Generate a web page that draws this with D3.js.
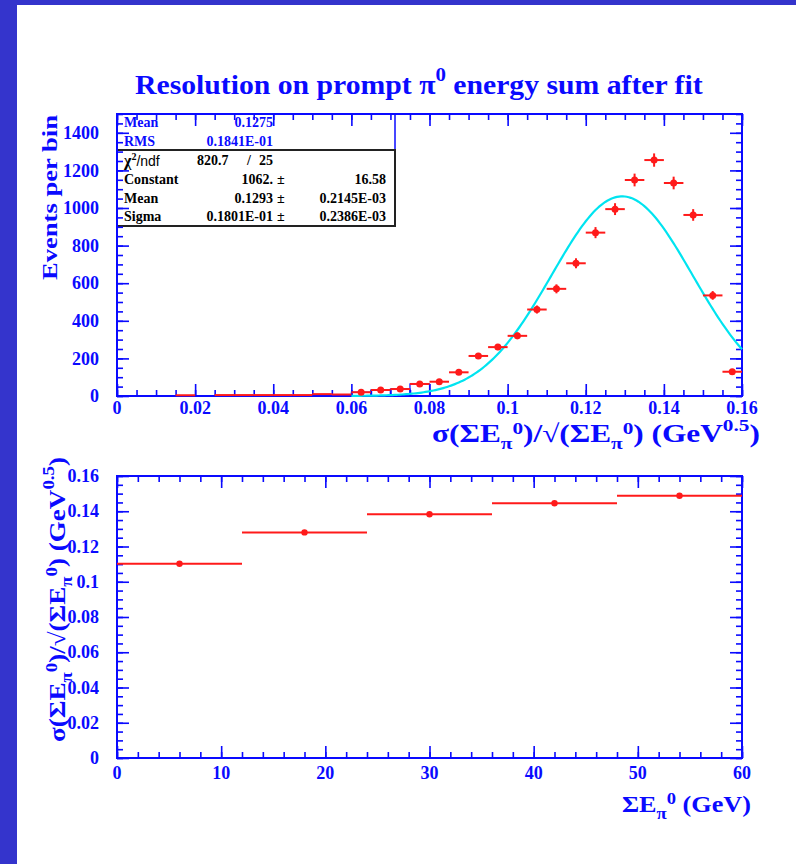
<!DOCTYPE html>
<html><head><meta charset="utf-8">
<script src="https://cdn.jsdelivr.net/npm/d3@7"></script>
<style>
body{margin:0;background:#fff}
svg{display:block}
text{font-family:"Liberation Serif","Times New Roman",serif;font-weight:bold}
</style>
</head><body>
<svg id="c" width="796" height="864"></svg>
<script>
// ---------------- data ----------------
const binCenters = [0.0175,0.0275,0.0325,0.0375,0.0425,0.0475,0.0525,0.0575,0.0625,0.0675,0.0725,0.0775,0.0825,0.0875,0.0925,0.0975,0.1025,0.1075,0.1125,0.1175,0.1225,0.1275,0.1325,0.1375,0.1425,0.1475,0.1525,0.1575];
const binCounts  = [4,5,5,5,5,5,10,8,20,32,37,64,76,126,213,260,320,460,570,706,869,994,1149,1255,1133,963,535,129];
const binErrors  = [1,2,2,2,2,2,3,3,4.5,5.7,6.1,8,8.7,11.2,14.6,16.1,17.9,21.4,23.9,26.6,29.5,31.5,33.9,35.4,33.7,31,23.1,11.4];
const binWidth = 0.005;
const outlinedBins = [0.0625,0.0675,0.0725,0.0775];
const markerMinCount = 15;
const fitConstant = 1062, fitMean = 0.1293, fitSigma = 0.01801;
const fitRange = [0.06, 0.16];

const statsTop = [["Mean","0.1275"],["RMS","0.1841E-01"]];
const chi2 = "820.7", ndf = "25";
const fitRows = [["Constant","1062.","16.58"],["Mean","0.1293","0.2145E-03"],["Sigma","0.1801E-01","0.2386E-03"]];

const xTopTicks = [0,0.02,0.04,0.06,0.08,0.1,0.12,0.14,0.16];
const xTopLabels = ["0","0.02","0.04","0.06","0.08","0.1","0.12","0.14","0.16"];
const yTopTicks = [0,200,400,600,800,1000,1200,1400];
const yTopLabels = ["0","200","400","600","800","1000","1200","1400"];

const energyCenters = [6,18,30,42,54];
const energyHalfWidths = [6,6,6,6,6];
const resolution = [0.1102,0.1280,0.1383,0.1445,0.1488];

const xBotTicks = [0,10,20,30,40,50,60];
const xBotLabels = ["0","10","20","30","40","50","60"];
const yBotTicks = [0,0.02,0.04,0.06,0.08,0.1,0.12,0.14,0.16];
const yBotLabels = ["0","0.02","0.04","0.06","0.08","0.1","0.12","0.14","0.16"];

// ---------------- drawing ----------------
const BLUE = "#0a0aff", RED = "#ff1a1a", CYAN = "#00e4f0";
const svg = d3.select("#c");
svg.append("rect").attr("width",796).attr("height",864).attr("fill","#fff");
svg.append("rect").attr("x",0).attr("y",0).attr("width",17).attr("height",864).attr("fill","#3434cc");
svg.append("rect").attr("x",0).attr("y",0).attr("width",796).attr("height",5).attr("fill","#3434cc");

const xTop = d3.scaleLinear().domain([0,0.16]).range([117,742]);
const yTop = d3.scaleLinear().domain([0,1500]).range([396,114]);
const xBot = d3.scaleLinear().domain([0,60]).range([117,742]);
const yBot = d3.scaleLinear().domain([0,0.16]).range([758,476]);

// stretch a horizontal text so its ink spans [a,b] horizontally
function fitH(t, a, b) {
  const bb = t.node().getBBox();
  const s = (b - a) / bb.width;
  t.attr("transform", `translate(${a - bb.x*s},0) scale(${s},1)`);
}
// rotated text (reads bottom-to-top) drawn at origin: baseline at bx, span [ya (top), yb (bottom)]
function fitV(t, bx, ya, yb) {
  const bb = t.node().getBBox(); // in unrotated coords
  const s = (yb - ya) / bb.width;
  // after rotate(-90): x' = y, y' = -x ; we want -bb.x*s -> yb
  t.attr("transform", `translate(${bx},${yb + bb.x*s}) rotate(-90) scale(${s},1)`);
}

function frameAxes(x, y, xMaj, xLab, xMinStep, yMaj, yLab, yMinStep, xLabY, yLabX) {
  const [x0,x1] = x.range(), [y0,y1] = y.range();
  const g = svg.append("g");
  const xd = x.domain(), yd = y.domain();
  const xMin = d3.range(xd[0], xd[1] + xMinStep/2, xMinStep);
  const yMin = d3.range(yd[0], yd[1] + yMinStep/2, yMinStep);
  const L = 12, l = 6;
  const style = s => s.call(a => a.select(".domain").remove())
     .call(a => a.selectAll("line").attr("stroke",BLUE).attr("stroke-width",1.6))
     .call(a => a.selectAll("text").remove());
  g.append("g").attr("transform",`translate(0,${y0})`).call(d3.axisBottom(x).tickValues(xMin).tickSize(-l).tickSizeOuter(0)).call(style);
  g.append("g").attr("transform",`translate(0,${y1})`).call(d3.axisTop(x).tickValues(xMin).tickSize(-l).tickSizeOuter(0)).call(style);
  g.append("g").attr("transform",`translate(${x0},0)`).call(d3.axisLeft(y).tickValues(yMin).tickSize(-l).tickSizeOuter(0)).call(style);
  g.append("g").attr("transform",`translate(${x1},0)`).call(d3.axisRight(y).tickValues(yMin).tickSize(-l).tickSizeOuter(0)).call(style);
  g.append("g").attr("transform",`translate(0,${y0})`).call(d3.axisBottom(x).tickValues(xMaj).tickSize(-L).tickSizeOuter(0)).call(style);
  g.append("g").attr("transform",`translate(0,${y1})`).call(d3.axisTop(x).tickValues(xMaj).tickSize(-L).tickSizeOuter(0)).call(style);
  g.append("g").attr("transform",`translate(${x0},0)`).call(d3.axisLeft(y).tickValues(yMaj).tickSize(-L).tickSizeOuter(0)).call(style);
  g.append("g").attr("transform",`translate(${x1},0)`).call(d3.axisRight(y).tickValues(yMaj).tickSize(-L).tickSizeOuter(0)).call(style);
  g.append("rect").attr("x",x0).attr("y",y1).attr("width",x1-x0).attr("height",y0-y1)
    .attr("fill","none").attr("stroke",BLUE).attr("stroke-width",2);
  g.selectAll(null).data(xMaj).join("text")
    .attr("x",d=>x(d)).attr("y",xLabY).attr("text-anchor","middle")
    .attr("fill",BLUE).attr("font-size",18).text((d,i)=>xLab[i]);
  g.selectAll(null).data(yMaj).join("text")
    .attr("x",yLabX).attr("y",d=>y(d)).attr("dy","0.34em").attr("text-anchor","end")
    .attr("fill",BLUE).attr("font-size",18).text((d,i)=>yLab[i]);
}

// ---------- top panel ----------
const topG = svg.append("g");
topG.selectAll(null).data(binCenters.map((c,i)=>({c,v:binCounts[i]})).filter(d=>outlinedBins.includes(d.c))).join("rect")
  .attr("x",d=>xTop(d.c-binWidth/2)).attr("y",d=>yTop(d.v))
  .attr("width",d=>xTop(d.c+binWidth/2)-xTop(d.c-binWidth/2)).attr("height",d=>yTop(0)-yTop(d.v))
  .attr("fill","none").attr("stroke",BLUE).attr("stroke-width",1.2);

const fitX = d3.range(fitRange[0], fitRange[1]+1e-9, 0.0005);
const gauss = v => fitConstant*Math.exp(-0.5*Math.pow((v-fitMean)/fitSigma,2));
topG.append("path").datum(fitX)
  .attr("d", d3.line().x(d=>xTop(d)).y(d=>yTop(gauss(d))))
  .attr("fill","none").attr("stroke",CYAN).attr("stroke-width",2.2);

// stats box
const sb = svg.append("g");
sb.append("rect").attr("x",117).attr("y",114).attr("width",278).attr("height",36)
  .attr("fill","#fff").attr("stroke",BLUE).attr("stroke-width",1.5);
sb.append("rect").attr("x",117).attr("y",150).attr("width",278).attr("height",76)
  .attr("fill","#fff").attr("stroke","#222").attr("stroke-width",2);
statsTop.forEach((r,i)=>{
  const yy = 127 + i*18.5;
  sb.append("text").attr("x",124).attr("y",yy).attr("fill",BLUE).attr("font-size",14).text(r[0]);
  sb.append("text").attr("x",273).attr("y",yy).attr("text-anchor","end").attr("fill",BLUE).attr("font-size",14).text(r[1]);
});
{
  const t = sb.append("text").attr("x",124).attr("y",166).attr("fill","#000").attr("font-size",16);
  t.append("tspan").text("χ");
  t.append("tspan").attr("dy",-6).attr("font-size",10).text("2");
  t.append("tspan").attr("dy",6).attr("font-family","Liberation Sans, Arial, sans-serif").attr("font-weight","normal").attr("font-size",14).text("/ndf");
  sb.append("text").attr("x",197).attr("y",165).attr("fill","#000").attr("font-size",14).text(chi2);
  sb.append("text").attr("x",247).attr("y",165).attr("fill","#000").attr("font-size",14).text("/");
  sb.append("text").attr("x",273).attr("y",165).attr("text-anchor","end").attr("fill","#000").attr("font-size",14).text(ndf);
}
fitRows.forEach((r,i)=>{
  const yy = 184 + i*18.5;
  sb.append("text").attr("x",124).attr("y",yy).attr("fill","#000").attr("font-size",14).text(r[0]);
  sb.append("text").attr("x",273).attr("y",yy).attr("text-anchor","end").attr("fill","#000").attr("font-size",14).text(r[1]);
  sb.append("text").attr("x",277).attr("y",yy).attr("fill","#000").attr("font-size",14).text("±");
  sb.append("text").attr("x",386).attr("y",yy).attr("text-anchor","end").attr("fill","#000").attr("font-size",14).text(r[2]);
});

frameAxes(xTop, yTop, xTopTicks, xTopLabels, 0.005, yTopTicks, yTopLabels, 50, 414, 99);

// data points drawn over frame
const pts = binCenters.map((c,i)=>({c,v:binCounts[i],e:binErrors[i]}));
topG.raise();
topG.selectAll(null).data(pts).join("line")
  .attr("x1",d=>xTop(d.c-binWidth/2)).attr("x2",d=>xTop(d.c+binWidth/2))
  .attr("y1",d=>yTop(d.v)).attr("y2",d=>yTop(d.v))
  .attr("stroke",RED).attr("stroke-width",2);
topG.selectAll(null).data(pts.filter(d=>d.v>=markerMinCount)).join("line")
  .attr("x1",d=>xTop(d.c)).attr("x2",d=>xTop(d.c))
  .attr("y1",d=>yTop(d.v-d.e)).attr("y2",d=>yTop(d.v+d.e))
  .attr("stroke",RED).attr("stroke-width",2);
topG.selectAll(null).data(pts.filter(d=>d.v>=markerMinCount)).join("circle")
  .attr("cx",d=>xTop(d.c)).attr("cy",d=>yTop(d.v)).attr("r",3.5).attr("fill",RED);

// title
{
  const t = svg.append("text").attr("x",0).attr("y",94).attr("fill",BLUE).attr("font-size",27);
  t.append("tspan").text("Resolution on prompt π");
  t.append("tspan").attr("dy",-13).attr("font-size",19).text("0");
  t.append("tspan").attr("dy",13).text(" energy sum after fit");
  fitH(t, 135, 703);
}
{
  const t = svg.append("text").attr("x",0).attr("y",0).attr("fill",BLUE).attr("font-size",22).text("Events per bin");
  fitV(t, 57, 115, 280);
}

function resTitle(t, small) {
  const add = (s, dy, fs) => { const ts = t.append("tspan").text(s); if (dy) ts.attr("dy",dy); if (fs) ts.attr("font-size",fs); };
  add("σ(ΣE"); add("π",7,small); add("0",-15,small); add(")/√(ΣE",8); add("π",7,small); add("0",-15,small);
  add(") (GeV",8); add("0.5",-11,small); add(")",11);
}
{
  const t = svg.append("text").attr("x",0).attr("y",442).attr("fill",BLUE).attr("font-size",25);
  resTitle(t,17);
  fitH(t, 432, 760);
}

// ---------- bottom panel ----------
const botG = svg.append("g");
const bp = energyCenters.map((c,i)=>({c,h:energyHalfWidths[i],v:resolution[i]}));

frameAxes(xBot, yBot, xBotTicks, xBotLabels, 2, yBotTicks, yBotLabels, 0.005, 779, 99);

botG.raise();
botG.selectAll(null).data(bp).join("line")
  .attr("x1",d=>xBot(d.c-d.h)).attr("x2",d=>xBot(d.c+d.h))
  .attr("y1",d=>yBot(d.v)).attr("y2",d=>yBot(d.v))
  .attr("stroke",RED).attr("stroke-width",2);
botG.selectAll(null).data(bp).join("circle")
  .attr("cx",d=>xBot(d.c)).attr("cy",d=>yBot(d.v)).attr("r",3.2).attr("fill",RED);

{
  const t = svg.append("text").attr("x",0).attr("y",0).attr("fill",BLUE).attr("font-size",23);
  resTitle(t,16);
  fitV(t, 65, 457, 742);
}
{
  const t = svg.append("text").attr("x",0).attr("y",812).attr("fill",BLUE).attr("font-size",24);
  t.append("tspan").text("ΣE");
  t.append("tspan").attr("dy",7).attr("font-size",17).text("π");
  t.append("tspan").attr("dy",-15).attr("font-size",17).text("0");
  t.append("tspan").attr("dy",8).text(" (GeV)");
  fitH(t, 622, 751);
}
</script>
</body></html>
